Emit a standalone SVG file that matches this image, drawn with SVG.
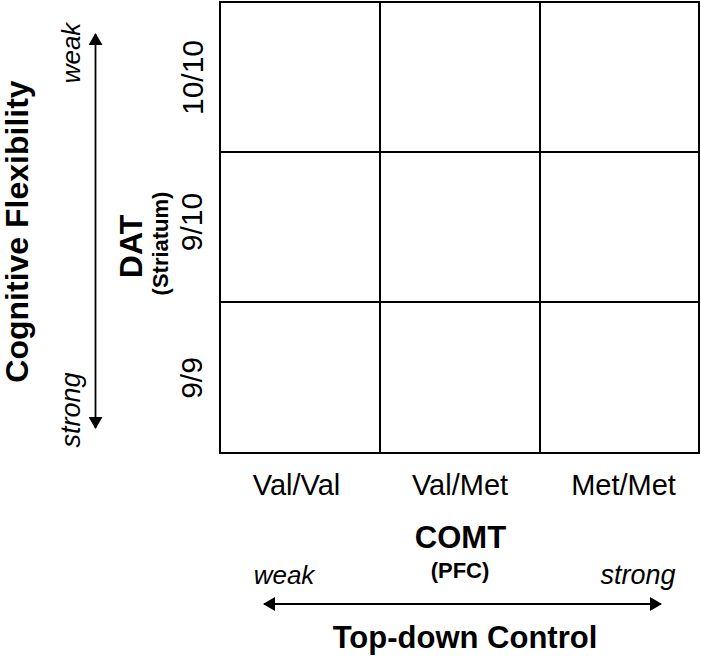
<svg xmlns="http://www.w3.org/2000/svg" width="701" height="659" viewBox="0 0 701 659">
<style>
text{font-family:"Liberation Sans",Arial,sans-serif;fill:#000;text-anchor:middle}
.b{font-weight:bold}
.i{font-style:italic}
.cell{fill:#fff;stroke:#000;stroke-width:2}
.ax{stroke:#000;stroke-width:1.8;fill:none}
</style>
<defs>
<marker id="ah" markerWidth="12" markerHeight="14" refX="11" refY="7" orient="auto-start-reverse" markerUnits="userSpaceOnUse">
<path d="M0,0 L12,7 L0,14 Z" fill="#000"/>
</marker>
</defs>
<rect width="701" height="659" fill="#fff"/>
<g id="grid">
<rect id="c11" class="cell" x="220" y="2" width="160" height="150"/>
<rect id="c12" class="cell" x="380" y="2" width="160" height="150"/>
<rect id="c13" class="cell" x="540" y="2" width="159" height="150"/>
<rect id="c21" class="cell" x="220" y="152" width="160" height="150"/>
<rect id="c22" class="cell" x="380" y="152" width="160" height="150"/>
<rect id="c23" class="cell" x="540" y="152" width="159" height="150"/>
<rect id="c31" class="cell" x="220" y="302" width="160" height="151"/>
<rect id="c32" class="cell" x="380" y="302" width="160" height="151"/>
<rect id="c33" class="cell" x="540" y="302" width="159" height="151"/>
</g>
<g id="connectors">
<line class="ax" x1="95.5" y1="34" x2="95.5" y2="428" marker-start="url(#ah)" marker-end="url(#ah)"/>
<line class="ax" x1="264" y1="604" x2="661" y2="604" marker-start="url(#ah)" marker-end="url(#ah)"/>
</g>
<g id="labels-left">
<text class="b" font-size="32" transform="translate(28,231.5) rotate(-90)">Cognitive Flexibility</text>
<text class="i" font-size="26" transform="translate(80,53) rotate(-90)">weak</text>
<text class="i" font-size="27" transform="translate(80,410) rotate(-90)">strong</text>
<text class="b" font-size="32" transform="translate(142,246.5) rotate(-90)">DAT</text>
<text class="b" font-size="22" transform="translate(168,243.5) rotate(-90)">(Striatum)</text>
<text font-size="30" transform="translate(203,77.5) rotate(-90)">10/10</text>
<text font-size="30" transform="translate(202,222) rotate(-90)">9/10</text>
<text font-size="30" transform="translate(202,378) rotate(-90)">9/9</text>
</g>
<g id="labels-bottom">
<text font-size="29" x="296.5" y="495">Val/Val</text>
<text font-size="29" x="460" y="495">Val/Met</text>
<text font-size="29" x="623.5" y="495">Met/Met</text>
<text class="b" font-size="31" x="460.5" y="548">COMT</text>
<text class="b" font-size="22" x="460" y="578">(PFC)</text>
<text class="i" font-size="26" x="284" y="584">weak</text>
<text class="i" font-size="27" x="638" y="584">strong</text>
<text class="b" font-size="31" x="465" y="648">Top-down Control</text>
</g>
</svg>
